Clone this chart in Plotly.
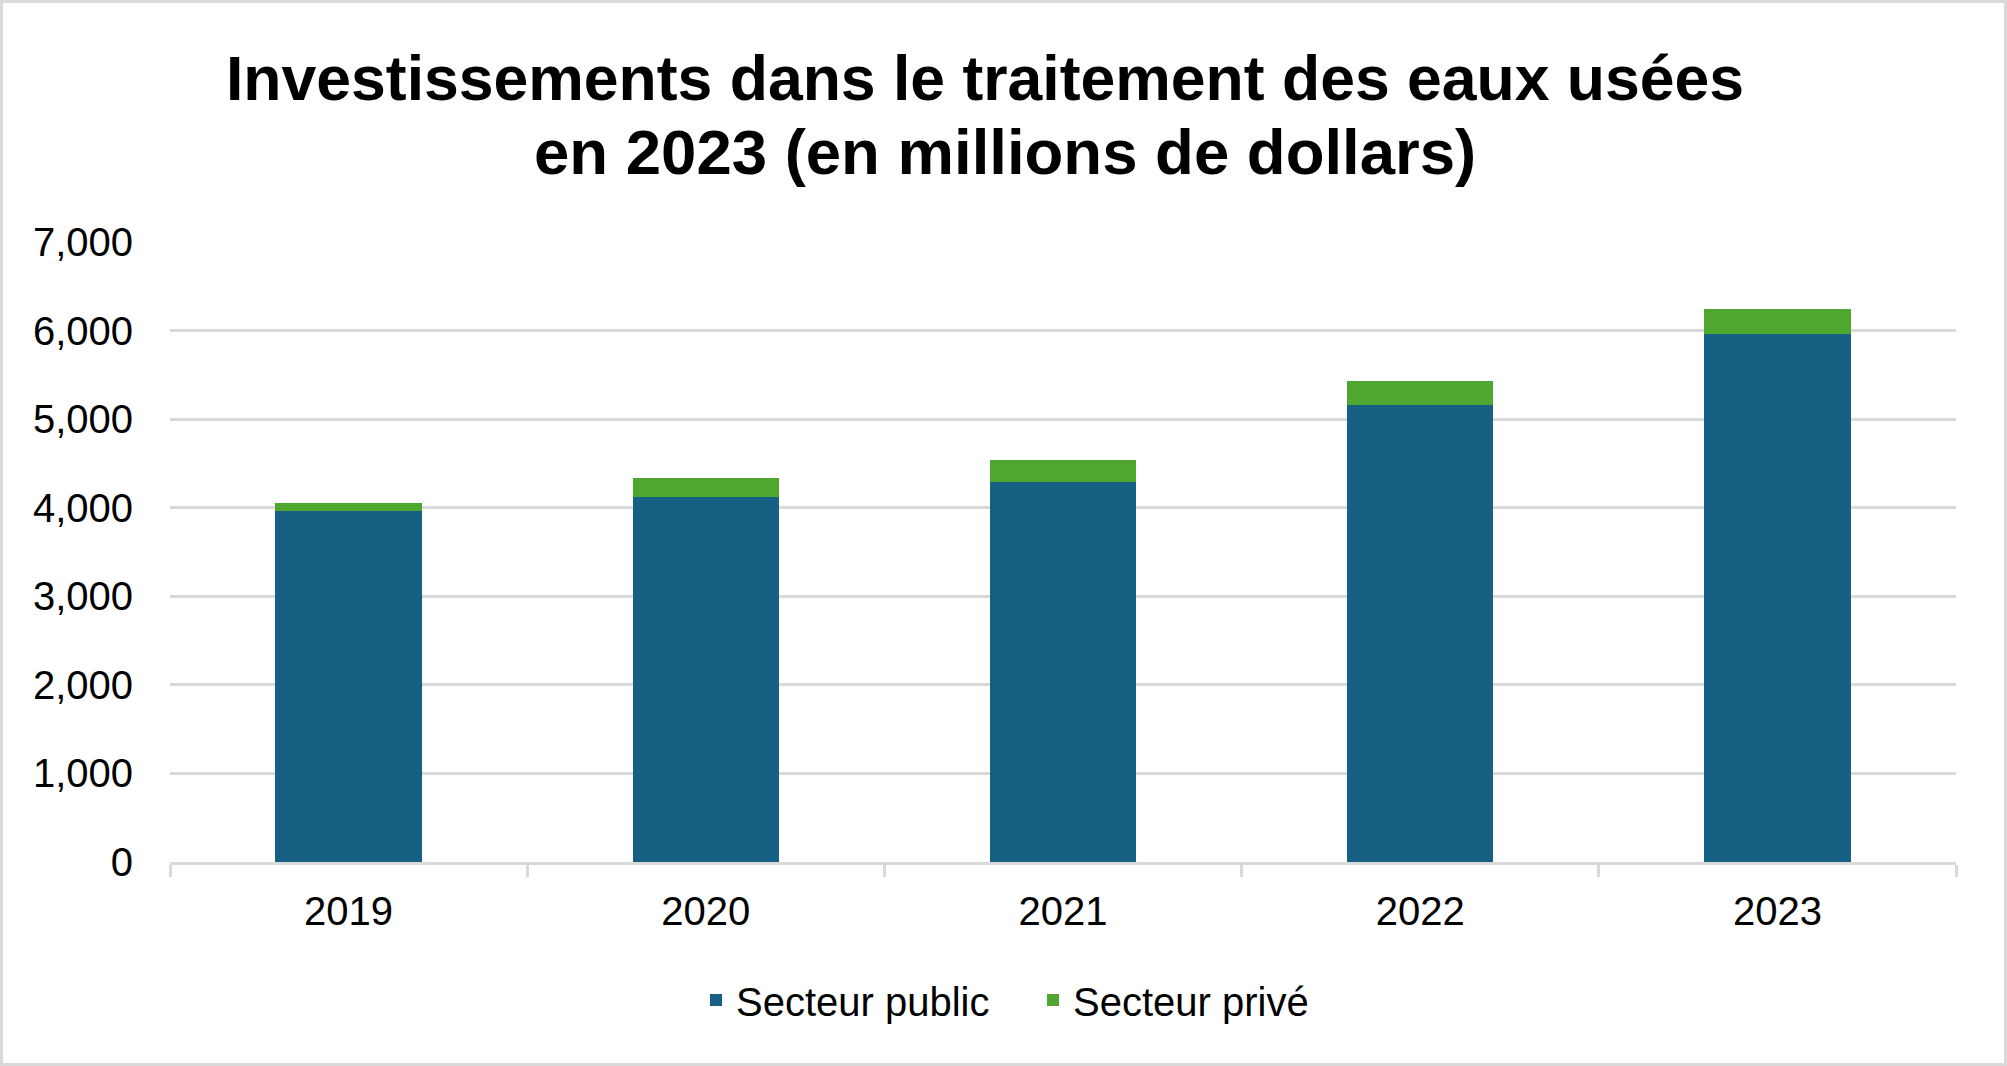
import plotly.graph_objects as go

# Data (millions of dollars)
years = ["2019", "2020", "2021", "2022", "2023"]
public_sector = [3960, 4120, 4290, 5165, 5965]
private_sector = [90, 220, 245, 270, 278]
y_ticks = [0, 1000, 2000, 3000, 4000, 5000, 6000, 7000]
title_lines = ["Investissements dans le traitement des eaux usées",
               "en 2023 (en millions de dollars)"]

W, H = 2007, 1066
ML, MR, MT, MB = 170, 51, 242, 204
plot_w = W - ML - MR
plot_h = H - MT - MB


def px_x(pixel_x):
    # figure pixel (from left) -> paper x fraction
    return (pixel_x - ML) / plot_w


def px_y(pixel_y):
    # figure pixel (from top) -> paper y fraction
    return (H - MB - pixel_y) / plot_h


fig = go.Figure()
fig.add_trace(go.Bar(x=years, y=public_sector, name="Secteur public",
                     marker=dict(color="#166083", line=dict(width=0)), width=0.41))
fig.add_trace(go.Bar(x=years, y=private_sector, name="Secteur privé",
                     marker=dict(color="#4FA730", line=dict(width=0)), width=0.41))

fig.update_layout(
    width=W, height=H,
    barmode="stack",
    margin=dict(l=ML, r=MR, t=MT, b=MB),
    paper_bgcolor="white", plot_bgcolor="white",
    font=dict(family="Liberation Sans, Arial, sans-serif", size=40, color="black"),
    showlegend=True,
    legend=dict(orientation="h", x=px_x(696), xanchor="left", y=px_y(1000),
                yanchor="middle", font=dict(size=40), traceorder="normal",
                itemwidth=30, entrywidth=292),
)

# two-line title as annotations so line spacing matches
for line, xmid, ymid, size in zip(title_lines, [985, 1005], [78, 152], [62.5, 63.5]):
    fig.add_annotation(text="<b>" + line + "</b>", xref="paper", yref="paper",
                       x=px_x(xmid), y=px_y(ymid), xanchor="center", yanchor="middle",
                       showarrow=False, font=dict(size=size, color="black"))

fig.update_xaxes(type="category", showline=True, linecolor="#D9D9D9", linewidth=3,
                 ticks="outside", tickson="boundaries", ticklen=12, tickwidth=3,
                 tickcolor="#D9D9D9", showgrid=False, tickfont=dict(size=40),
                 ticklabelstandoff=12)
fig.update_yaxes(range=[0, 7000], tickvals=y_ticks, tickformat=",d",
                 showgrid=True, gridcolor="#D9D9D9", gridwidth=3, zeroline=False,
                 showline=False, ticks="", ticklabelstandoff=36, tickfont=dict(size=40))

# light grey frame around the whole chart
fig.add_shape(type="rect", xref="paper", yref="paper",
              x0=px_x(1.5), x1=px_x(W - 1.5),
              y0=px_y(H - 1.5), y1=px_y(1.5),
              line=dict(color="#D9D9D9", width=3), fillcolor="rgba(0,0,0,0)", layer="below")

fig.write_html("out.html", config={"displayModeBar": False},
               post_script="document.body.style.margin='0';")
